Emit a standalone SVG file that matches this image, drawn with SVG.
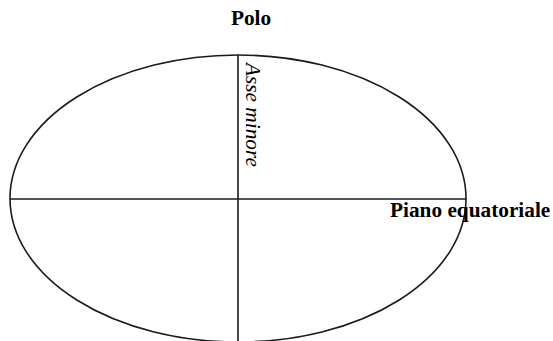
<svg xmlns="http://www.w3.org/2000/svg" width="553" height="341" viewBox="0 0 553 341">
<style>
.ln{fill:none;stroke:#1a1a1a;stroke-width:1.6}
.lb{font-family:"Liberation Serif","Times New Roman",serif;font-size:21.3px;fill:#000}
.b{font-weight:bold}
.i{font-style:italic}
</style>
<rect width="553" height="341" fill="#fff"/>
<g id="ellipse"><ellipse class="ln" cx="238" cy="198.5" rx="228" ry="143.5"/></g>
<g id="connectors">
<line class="ln" x1="10" y1="199" x2="466" y2="199"/>
<line class="ln" x1="238" y1="55" x2="238" y2="341"/>
</g>
<g id="polo"><text class="lb b" x="251" y="25" text-anchor="middle">Polo</text></g>
<g id="piano"><text class="lb b" x="390" y="217">Piano equatoriale</text></g>
<g id="asse"><text class="lb i" transform="translate(246,63) rotate(90)">Asse minore</text></g>
</svg>
